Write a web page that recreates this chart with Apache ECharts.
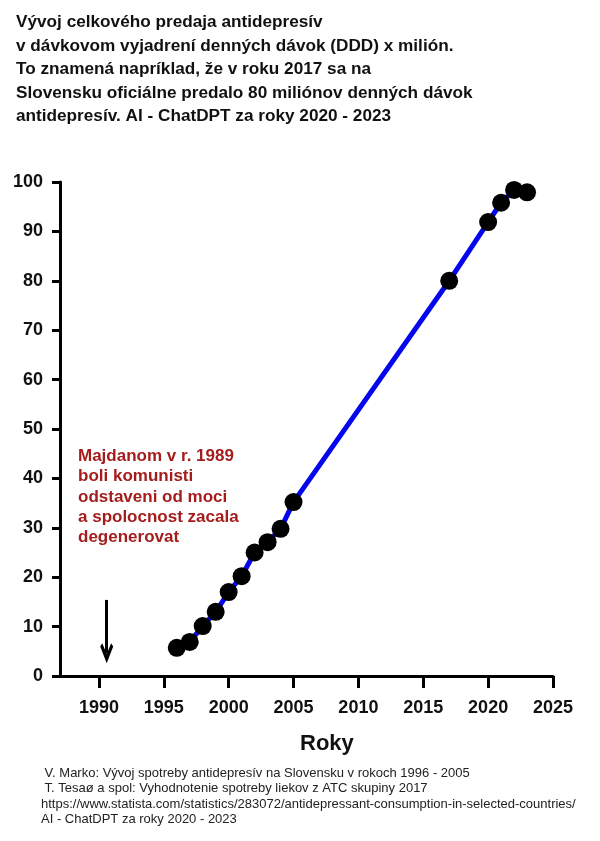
<!DOCTYPE html>
<html>
<head>
<meta charset="utf-8">
<script src="https://cdn.jsdelivr.net/npm/echarts@6/dist/echarts.min.js"></script>
<style>
  html, body { margin: 0; padding: 0; background: #fff; }
  #chartDiv { width: 600px; height: 841px; }
</style>
</head>
<body>
<div id="chartDiv"></div>
<script>
// data
var roky = [1996, 1997, 1998, 1999, 2000, 2001, 2002, 2003, 2004, 2005, 2017, 2020, 2021, 2022, 2023];
var ddd = [5.7, 6.9, 10.1, 13.0, 17.0, 20.2, 25.0, 27.1, 29.8, 35.2, 80.0, 91.9, 95.8, 98.4, 97.9];
var rokyTicks = [1990, 1995, 2000, 2005, 2010, 2015, 2020, 2025];
var sipka = [[1990.6, 15.4], [1990.6, 4.6]];  // arrow from / to

var nadpis = [
    'Vývoj celkového predaja antidepresív',
    'v dávkovom vyjadrení denných dávok (DDD) x milión.',
    'To znamená napríklad, že v roku 2017 sa na',
    'Slovensku oficiálne predalo 80 miliónov denných dávok',
    'antidepresív. AI - ChatDPT za roky 2020 - 2023'
];
var poznamka = [
    'Majdanom v r. 1989',
    'boli komunisti',
    'odstaveni od moci',
    'a spolocnost zacala',
    'degenerovat'
];
var zdroje = [
    ' V. Marko: Vývoj spotreby antidepresív na Slovensku v rokoch 1996 - 2005',
    ' T. Tesaø a spol: Vyhodnotenie spotreby liekov z ATC skupiny 2017',
    'https://www.statista.com/statistics/283072/antidepressant-consumption-in-selected-countries/',
    'AI - ChatDPT za roky 2020 - 2023'
];

var FONT = '"Liberation Sans", Arial, sans-serif';

var chart = echarts.init(document.getElementById('chartDiv'));

var graphics = [];
nadpis.forEach(function (t, i) {
    graphics.push({
        type: 'text', left: 16, top: 14 + i * 23.5,
        style: { text: t, font: 'bold 17.2px ' + FONT, fill: '#111' }
    });
});
poznamka.forEach(function (t, i) {
    graphics.push({
        type: 'text', left: 78, top: 448 + i * 20.3,
        style: { text: t, font: 'bold 17px ' + FONT, fill: '#a51c1c' }
    });
});
zdroje.forEach(function (t, i) {
    graphics.push({
        type: 'text', left: 41, top: 767 + i * 15.4,
        style: { text: t, font: '13px ' + FONT, fill: '#222' }
    });
});
graphics.push({
    type: 'text', left: 300, top: 733,
    style: { text: 'Roky', font: 'bold 22px ' + FONT, fill: '#111' }
});

var option = {
    animation: false,
    backgroundColor: '#fff',
    grid: { left: 60, right: 47, top: 182, bottom: 165 },
    xAxis: {
        type: 'value',
        min: 1987,
        max: 2025,
        splitLine: { show: false },
        axisLine: { lineStyle: { color: '#000', width: 3 } },
        axisTick: { customValues: rokyTicks, length: 12, lineStyle: { color: '#000', width: 3 } },
        axisLabel: {
            customValues: rokyTicks, margin: 23,
            formatter: function (v) { return String(v); },
            fontFamily: FONT, fontWeight: 'bold', fontSize: 18, color: '#111'
        }
    },
    yAxis: {
        type: 'value',
        min: 0,
        max: 100,
        interval: 10,
        splitLine: { show: false },
        axisLine: { show: true, lineStyle: { color: '#000', width: 3 } },
        axisTick: { show: true, length: 8, lineStyle: { color: '#000', width: 3 } },
        axisLabel: { margin: 17, fontFamily: FONT, fontWeight: 'bold', fontSize: 18, color: '#111' }
    },
    graphic: graphics,
    series: [
        {
            type: 'line',
            data: roky.map(function (r, i) { return [r, ddd[i]]; }),
            lineStyle: { color: '#0505ee', width: 5 },
            symbol: 'circle',
            symbolSize: 18,
            itemStyle: { color: '#000' },
            z: 3,
            markLine: {
                silent: true,
                symbol: ['none', 'path://M5,0 L10,8 L8.4,9.6 L5,4.4 L1.6,9.6 L0,8 Z'],
                symbolSize: [13, 20],
                label: { show: false },
                lineStyle: { color: '#000', width: 3, type: 'solid' },
                data: [[{ coord: sipka[0] }, { coord: sipka[1] }]]
            }
        }
    ]
};
chart.setOption(option);
</script>
</body>
</html>
